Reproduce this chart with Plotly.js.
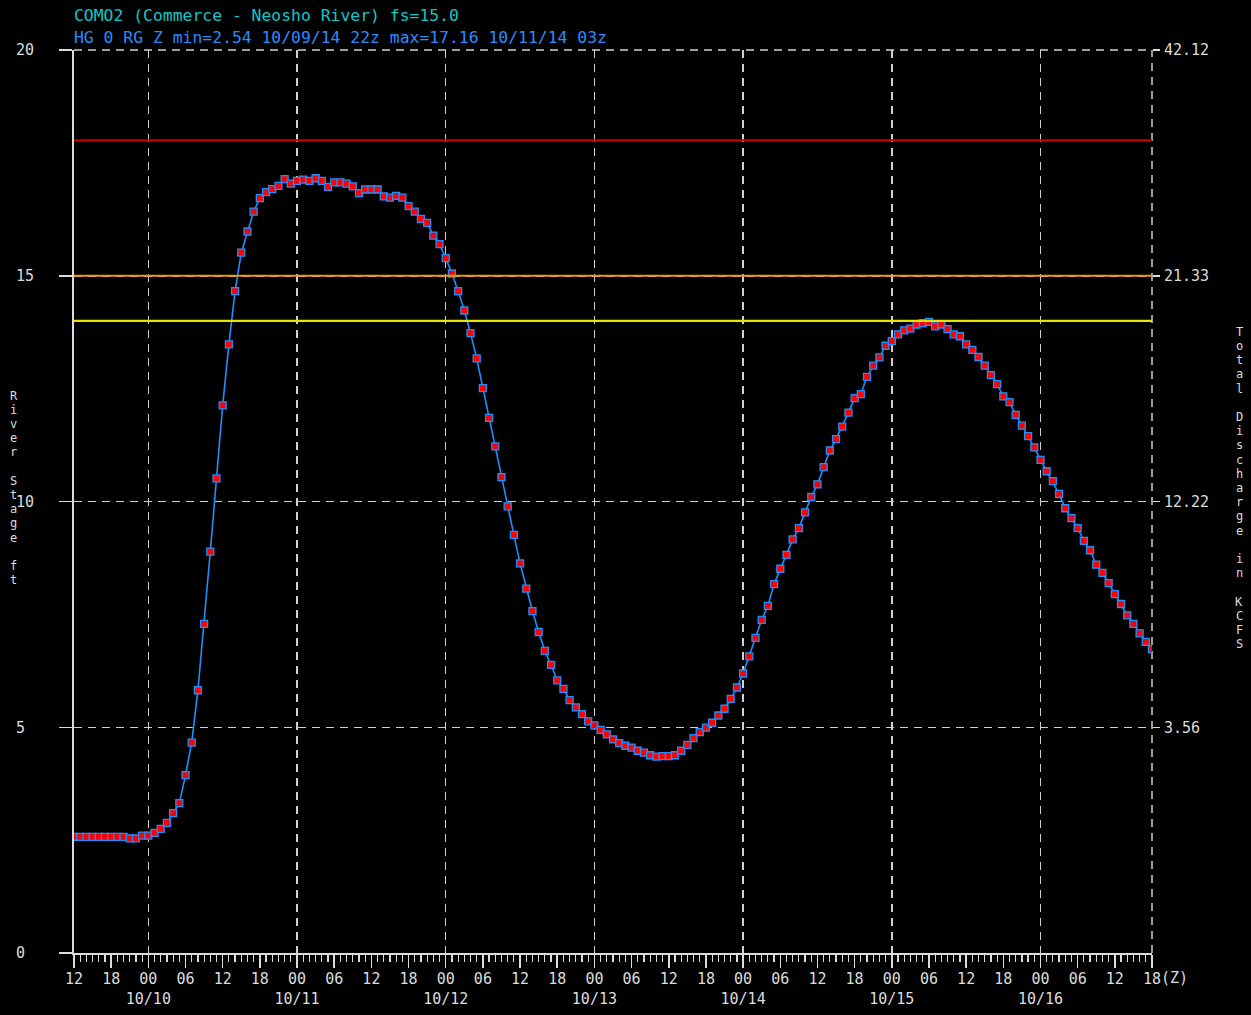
<!DOCTYPE html>
<html>
<head>
<meta charset="utf-8">
<script src="https://cdn.plot.ly/plotly-3.0.1.min.js"></script>
<style>
html,body{margin:0;padding:0;background:#000;}
#chart{width:1251px;height:1015px;}
</style>
</head>
<body>
<div id="chart"></div>
<script>
// ---- data (hourly river stage, ft) from 2014-10-09 12z ----
var startTime = '2014-10-09T12:00:00Z';
var stageFt = [
 2.57,2.57,2.57,2.57,2.57,2.57,2.57,2.57,2.57,2.54,
 2.54,2.60,2.60,2.66,2.75,2.88,3.10,3.32,3.94,4.66,
 5.82,7.29,8.89,10.51,12.13,13.48,14.66,15.51,15.98,16.42,
 16.72,16.85,16.92,16.99,17.14,17.04,17.10,17.13,17.10,17.16,
 17.10,16.97,17.07,17.07,17.04,16.98,16.83,16.91,16.91,16.91,
 16.76,16.73,16.77,16.73,16.54,16.42,16.26,16.17,15.89,15.70,
 15.39,15.05,14.66,14.23,13.73,13.17,12.51,11.85,11.22,10.54,
 9.89,9.26,8.63,8.07,7.57,7.11,6.69,6.38,6.04,5.85,
 5.60,5.44,5.29,5.13,5.04,4.94,4.84,4.73,4.65,4.59,
 4.55,4.48,4.44,4.38,4.35,4.36,4.36,4.38,4.48,4.61,
 4.76,4.89,4.99,5.10,5.26,5.41,5.63,5.88,6.19,6.57,
 6.98,7.38,7.69,8.17,8.51,8.82,9.16,9.41,9.76,10.10,
 10.38,10.76,11.13,11.38,11.66,11.97,12.29,12.38,12.76,13.01,
 13.19,13.45,13.55,13.70,13.79,13.83,13.92,13.95,13.98,13.88,
 13.92,13.82,13.70,13.66,13.48,13.36,13.20,13.01,12.80,12.60,
 12.33,12.20,11.92,11.68,11.45,11.20,10.92,10.67,10.45,10.17,
 9.85,9.63,9.41,9.13,8.92,8.60,8.42,8.19,7.95,7.73,
 7.48,7.29,7.08,6.89,6.73
];
// threshold lines (ft)
var levelValues = [18, 15, 14];
var levelColors = ['#c80000', '#e8960c', '#e6e600'];
// y-axis ticks
var stageTicks = [0, 5, 10, 15, 20];
var stageTickText = ['0\u00a0', '5\u00a0', '10', '15', '20'];
var flowTicks = [5, 10, 15, 20];
var flowTickText = ['3.56', '12.22', '21.33', '42.12'];
// x-axis tick labels (every 6 h)
var timeTickText = [
 '12','18','00<br>10/10','06','12','18','00<br>10/11','06','12','18',
 '00<br>10/12','06','12','18','00<br>10/13','06','12','18','00<br>10/14','06',
 '12','18','00<br>10/15','06','12','18','00<br>10/16','06','12','18'
];
var timeZoneLabel = '(Z)';
var dayGridTimes = ['2014-10-10 00:00','2014-10-11 00:00','2014-10-12 00:00','2014-10-13 00:00',
 '2014-10-14 00:00','2014-10-15 00:00','2014-10-16 00:00'];
var titleLine1 = 'COMO2 (Commerce - Neosho River) fs=15.0';
var titleLine2 = 'HG 0 RG Z min=2.54 10/09/14 22z max=17.16 10/11/14 03z';
var leftTitle = 'River Stage ft';
var rightTitle = 'Total Discharge in KCFS';

// ---- build ----
var HOUR = 3600000;
var t0 = Date.parse(startTime);
function fmt(ms){ return new Date(ms).toISOString().slice(0,16).replace('T',' '); }
var times = stageFt.map(function(_, i){ return fmt(t0 + i*HOUR); });
var tickTimes = timeTickText.map(function(_, i){ return fmt(t0 + i*6*HOUR); });
var xRange = [times[0], times[times.length-1]];

var FONT = 'DejaVu Sans Mono, Liberation Mono, monospace';
var FG = '#dcdcdc';
var GRID = '#d0d0d0';
var DASH = '8px,6px';

var traces = [
 {
  x: times, y: stageFt, type: 'scatter', mode: 'lines+markers',
  line: {color: '#1e8fff', width: 1.6},
  marker: {symbol: 'square', size: 7, color: '#ff0000', line: {color: '#1e8fff', width: 1.3}},
  hoverinfo: 'x+y', showlegend: false
 },
 {
  x: times, y: stageFt, type: 'scatter', mode: 'markers', xaxis: 'x2', yaxis: 'y2',
  marker: {opacity: 0}, hoverinfo: 'skip', showlegend: false
 }
];

var shapes = levelValues.map(function(v, i){
  return {type: 'line', xref: 'paper', yref: 'y', x0: 0, x1: 1, y0: v, y1: v,
          line: {color: levelColors[i], width: 2.2}, layer: 'above'};
});
// dashed frame at the top and right edges (grid at the range ends)
shapes.push({type: 'line', xref: 'paper', yref: 'paper', x0: 0, x1: 1, y0: 1, y1: 1,
             line: {color: GRID, width: 1.5, dash: DASH}, layer: 'below'});
shapes.push({type: 'line', xref: 'paper', yref: 'paper', x0: 1, x1: 1, y0: 0, y1: 1,
             line: {color: GRID, width: 1.5, dash: DASH}, layer: 'below'});

var annotations = [];
function stacked(text, xPaper){
  var n = text.length, step = 14.2;
  for (var i = 0; i < n; i++){
    var ch = text.charAt(i);
    if (ch === ' ') continue;
    annotations.push({xref: 'paper', yref: 'paper', x: xPaper, y: 0.515,
      yshift: ((n-1)/2 - i)*step, text: ch, showarrow: false,
      font: {family: FONT, size: 12, color: FG}, xanchor: 'center', yanchor: 'middle'});
  }
}
stacked(leftTitle, (13.5-74)/1078);
stacked(rightTitle, (1239-74)/1078);
annotations.push({xref: 'paper', yref: 'paper', x: 1, y: 0, xanchor: 'left', yanchor: 'middle',
  xshift: 7, yshift: -25, text: timeZoneLabel, showarrow: false,
  font: {family: FONT, size: 15, color: FG}});

var layout = {
  width: 1251, height: 1015,
  paper_bgcolor: '#000', plot_bgcolor: '#000',
  margin: {l: 74, r: 99, t: 50, b: 62},
  showlegend: false,
  title: {
    text: '<span style="color:#10c8c8">' + titleLine1 + '</span><br><span style="color:#2a8cff">' + titleLine2 + '</span>',
    font: {family: FONT, size: 16.4},
    x: 0, xref: 'paper', xanchor: 'left', y: 0.979, yref: 'container', yanchor: 'top', pad: {l: 0}
  },
  font: {family: FONT, color: FG},
  xaxis: {
    type: 'date', range: xRange,
    tickmode: 'array', tickvals: tickTimes, ticktext: timeTickText,
    ticks: 'outside', ticklen: 13, tickwidth: 1.5, tickcolor: FG,
    tickfont: {family: FONT, size: 15, color: FG}, ticklabelstandoff: -2,
    showline: true, linecolor: FG, linewidth: 2,
    showgrid: false, zeroline: false, tickangle: 0,
    minor: {tickmode: 'linear', tick0: times[0], dtick: HOUR, ticks: 'outside', ticklen: 7,
            tickcolor: FG, tickwidth: 1.2, showgrid: false}
  },
  xaxis2: {
    type: 'date', range: xRange, overlaying: 'x', anchor: 'y2', side: 'bottom',
    tickmode: 'array', tickvals: dayGridTimes, showticklabels: false, ticks: '',
    showgrid: true, gridcolor: GRID, gridwidth: 1.5, griddash: DASH,
    showline: false, zeroline: false
  },
  yaxis: {
    range: [0, 20], tickmode: 'array', tickvals: stageTicks, ticktext: stageTickText,
    ticks: 'outside', ticklen: 13, tickwidth: 1.5, tickcolor: FG,
    tickfont: {family: FONT, size: 15, color: FG}, ticklabelstandoff: 22,
    showline: true, linecolor: FG, linewidth: 2,
    showgrid: true, gridcolor: GRID, gridwidth: 1.5, griddash: DASH, zeroline: false
  },
  yaxis2: {
    range: [0, 20], overlaying: 'y', side: 'right', anchor: 'x2',
    tickmode: 'array', tickvals: flowTicks, ticktext: flowTickText,
    ticks: 'outside', ticklen: 7, tickwidth: 1.5, tickcolor: FG,
    tickfont: {family: FONT, size: 15, color: FG}, ticklabelstandoff: 1,
    showgrid: false, showline: false, zeroline: false
  },
  shapes: shapes,
  annotations: annotations
};

Plotly.newPlot('chart', traces, layout, {displayModeBar: false, staticPlot: true});
</script>
</body>
</html>
